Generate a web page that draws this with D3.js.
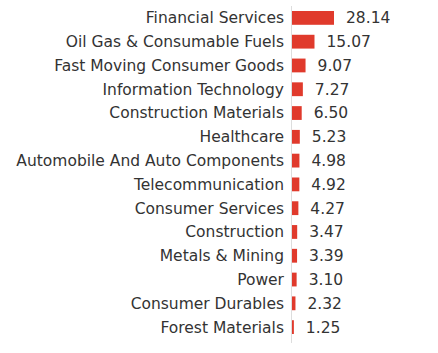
<!DOCTYPE html>
<html>
<head>
<meta charset="utf-8">
<script src="https://cdn.jsdelivr.net/npm/d3@7"></script>
<style>
  body { margin: 0; background: #fff; }
  text { font-family: "DejaVu Sans", sans-serif; }
</style>
</head>
<body>
<svg id="chart"></svg>
<script>
// sector weights
const sectors = [
  "Financial Services", "Oil Gas & Consumable Fuels", "Fast Moving Consumer Goods",
  "Information Technology", "Construction Materials", "Healthcare",
  "Automobile And Auto Components", "Telecommunication", "Consumer Services",
  "Construction", "Metals & Mining", "Power", "Consumer Durables", "Forest Materials"
];
const weights = [28.14, 15.07, 9.07, 7.27, 6.50, 5.23, 4.98, 4.92, 4.27, 3.47, 3.39, 3.10, 2.32, 1.25];

width = 438;
height = 353;
axisX = 291;

svg = d3.select("#chart").attr("width", width).attr("height", height);

const yScale = d3.scaleBand()
  .domain(sectors)
  .range([6, 339])
  .paddingInner(0.42)
  .paddingOuter(0.21);

const xScale = d3.scaleLinear()
  .domain([0, d3.max(weights)])
  .range([0, 42]);

const data = sectors.map((s, i) => ({ sector: s, value: weights[i] }));

// bars
svg.selectAll("rect.bar")
  .data(data)
  .enter()
  .append("rect")
  .attr("class", "bar")
  .attr("x", axisX + 1)
  .attr("y", d => yScale(d.sector))
  .attr("width", d => xScale(d.value))
  .attr("height", yScale.bandwidth())
  .attr("fill", "#e03a2c");

// axis line
svg.append("line")
  .attr("x1", axisX + 0.5).attr("x2", axisX + 0.5)
  .attr("y1", 6).attr("y2", 343)
  .attr("stroke", "#ddd")
  .attr("stroke-width", 1);

// category labels
svg.selectAll("text.cat")
  .data(data)
  .enter()
  .append("text")
  .attr("class", "cat")
  .attr("x", axisX - 7)
  .attr("y", d => yScale(d.sector) + yScale.bandwidth() / 2)
  .attr("dy", "0.35em")
  .attr("text-anchor", "end")
  .attr("font-size", 15.5)
  .attr("fill", "#333")
  .text(d => d.sector);

// value labels
svg.selectAll("text.val")
  .data(data)
  .enter()
  .append("text")
  .attr("class", "val")
  .attr("x", d => axisX + 1 + xScale(d.value) + 12)
  .attr("y", d => yScale(d.sector) + yScale.bandwidth() / 2)
  .attr("dy", "0.35em")
  .attr("font-size", 15.5)
  .attr("fill", "#333")
  .text(d => d.value.toFixed(2));
</script>
</body>
</html>
